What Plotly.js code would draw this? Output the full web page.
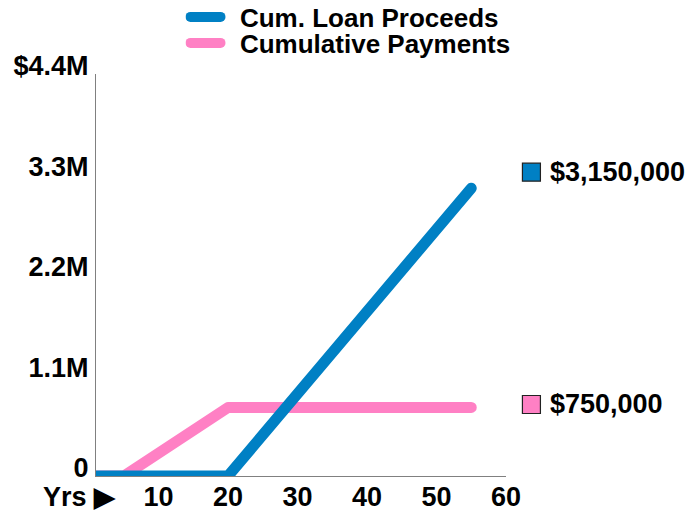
<!DOCTYPE html>
<html>
<head>
<meta charset="utf-8">
<script src="https://cdn.plot.ly/plotly-3.0.1.min.js"></script>
<style>
  html, body { margin: 0; padding: 0; background: #fff; }
  #chart { width: 700px; height: 514px; }
  .scatterlayer .js-line, .legendlines path { stroke-linecap: round; stroke-linejoin: round; }
</style>
</head>
<body>
<div id="chart"></div>
<script>
// ---- data ----
var loanYears = [1, 20, 55];
var loanValues = [0, 0, 3150000];
var payYears = [1, 5, 20, 55];
var payValues = [0, 0, 750000, 750000];
var seriesNames = ['Cum. Loan Proceeds', 'Cumulative Payments'];
var endLabels = ['$3,150,000', '$750,000'];
var xTickVals = [10, 20, 30, 40, 50, 60];
var xTickText = ['10', '20', '30', '40', '50', '60'];
var yTickVals = [0, 1100000, 2200000, 3300000, 4400000];
var yTickText = ['0', '1.1M', '2.2M', '3.3M', '$4.4M'];

var BLUE = '#0080c4';
var PINK = '#ff80c4';
var FONT = 'Liberation Sans, Arial, sans-serif';
var BIG = {family: FONT, size: 27, color: '#000', weight: 'bold'};

var traces = [
  {x: payYears, y: payValues, name: '&nbsp;&nbsp;' + seriesNames[1], mode: 'lines', legend: 'legend2',
   line: {color: PINK, width: 11}, cliponaxis: false, hoverinfo: 'skip'},
  {x: loanYears, y: loanValues, name: '&nbsp;&nbsp;' + seriesNames[0], mode: 'lines', legend: 'legend',
   line: {color: BLUE, width: 11}, cliponaxis: false, hoverinfo: 'skip'}
];

var loanEnd = loanValues[loanValues.length - 1];
var payEnd = payValues[payValues.length - 1];
var sqX = 1.062;    // paper position of label squares (right of plot)
var txtX = 1.103;   // paper position of label text

function legendCfg(yc) {
  return {
    xref: 'container', yref: 'container',
    x: 0.265, y: yc, xanchor: 'left', yanchor: 'middle',
    font: {family: FONT, size: 26, color: '#000', weight: 'bold'},
    bgcolor: 'rgba(0,0,0,0)', itemwidth: 30, borderwidth: 0
  };
}

var layout = {
  width: 700, height: 514,
  margin: {l: 96, r: 194, t: 74, b: 38, autoexpand: false},
  paper_bgcolor: '#fff', plot_bgcolor: '#fff',
  font: BIG,
  showlegend: true,
  legend: legendCfg(1 - 17 / 514),
  legend2: legendCfg(1 - 43 / 514),
  xaxis: {
    range: [1, 60], tickvals: xTickVals, ticktext: xTickText,
    showgrid: false, zeroline: false, showline: true, linecolor: '#808080', linewidth: 1,
    ticks: '', ticklabelstandoff: -3, automargin: false,
    tickfont: BIG, fixedrange: true
  },
  yaxis: {
    range: [0, 4400000], tickvals: yTickVals, ticktext: yTickText,
    showgrid: false, zeroline: false, showline: true, linecolor: '#808080', linewidth: 1,
    ticks: '', ticklabelshift: -8, ticklabelstandoff: 1, automargin: false,
    tickfont: BIG, fixedrange: true
  },
  annotations: [
    {xref: 'paper', yref: 'paper', x: 0.054, y: 0, xanchor: 'right', yanchor: 'middle',
     yshift: -21, text: 'Yrs ▶', showarrow: false, font: BIG},
    {xref: 'paper', yref: 'y', x: txtX, y: loanEnd, yshift: 16, xanchor: 'left', yanchor: 'middle',
     text: endLabels[0], showarrow: false, font: BIG},
    {xref: 'paper', yref: 'y', x: txtX, y: payEnd, yshift: 3, xanchor: 'left', yanchor: 'middle',
     text: endLabels[1], showarrow: false, font: BIG}
  ],
  shapes: [
    {type: 'rect', xref: 'paper', yref: 'y', xsizemode: 'pixel', ysizemode: 'pixel',
     xanchor: sqX, yanchor: loanEnd, x0: -9, x1: 9, y0: 7, y1: 25,
     fillcolor: BLUE, line: {color: '#222', width: 1.2}},
    {type: 'rect', xref: 'paper', yref: 'y', xsizemode: 'pixel', ysizemode: 'pixel',
     xanchor: sqX, yanchor: payEnd, x0: -9, x1: 9, y0: -6, y1: 12,
     fillcolor: PINK, line: {color: '#222', width: 1.2}}
  ]
};

Plotly.newPlot('chart', traces, layout, {displayModeBar: false, staticPlot: true});
</script>
</body>
</html>
